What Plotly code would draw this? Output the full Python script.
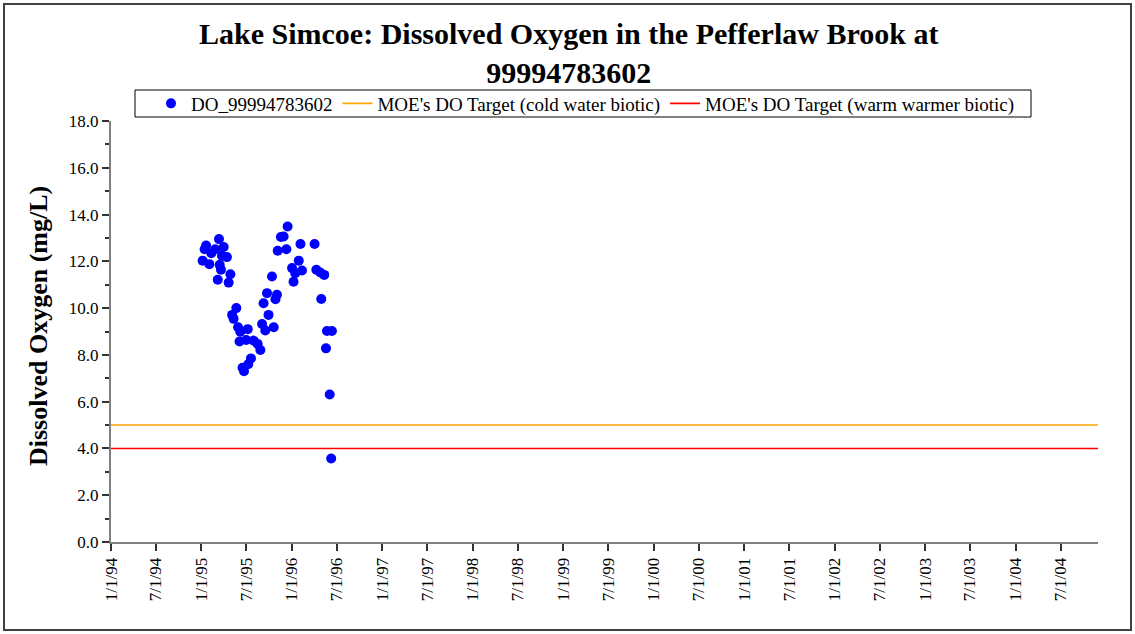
import plotly.graph_objects as go

# ---- data ----
do_dates = [
    "1995-01-06", "1995-01-14", "1995-01-20", "1995-02-02", "1995-02-10", "1995-02-26",
    "1995-03-08", "1995-03-13", "1995-03-16", "1995-03-21", "1995-03-25", "1995-04-01",
    "1995-04-14", "1995-04-21", "1995-04-28", "1995-05-05", "1995-05-11", "1995-05-22",
    "1995-05-29", "1995-06-04", "1995-06-07", "1995-06-16", "1995-06-22", "1995-07-01",
    "1995-07-07", "1995-07-09", "1995-07-20", "1995-07-31", "1995-08-16", "1995-08-27",
    "1995-09-03", "1995-09-09", "1995-09-16", "1995-09-23", "1995-09-29", "1995-10-13",
    "1995-10-20", "1995-10-27", "1995-11-02", "1995-11-05", "1995-11-18", "1995-11-29",
    "1995-12-10", "1995-12-15", "1996-01-02", "1996-01-08", "1996-01-15", "1996-01-29",
    "1996-02-05", "1996-02-11", "1996-04-02", "1996-04-09", "1996-04-25", "1996-04-29",
    "1996-05-11", "1996-05-18", "1996-05-22", "1996-06-02", "1996-06-08", "1996-06-11",
]
do_values = [
    12.03, 12.52, 12.68, 11.88, 12.35, 12.52,
    11.21, 12.95, 11.85, 11.64, 12.24, 12.61,
    12.18, 11.09, 11.45, 9.71, 9.54, 10.00,
    9.18, 8.57, 8.99, 7.45, 7.30, 8.64,
    9.10, 7.60, 7.85, 8.61, 8.47, 8.21,
    9.32, 10.21, 9.04, 10.64, 9.71, 11.35,
    9.18, 10.38, 10.57, 12.45, 13.04, 13.06,
    12.52, 13.49, 11.71, 11.13, 11.49, 12.03,
    12.74, 11.61, 12.74, 11.64, 11.52, 10.39,
    11.42, 8.28, 9.02, 6.31, 3.57, 9.02,
]
series_name = "DO_99994783602"
cold_target_name = "MOE's DO Target (cold water biotic)"
warm_target_name = "MOE's DO Target (warm warmer biotic)"
cold_target = 5.0
warm_target = 4.0

x_start = "1994-01-01"
x_end = "2004-11-29"

tick_dates = []
tick_labels = []
for yr in range(1994, 2005):
    for mo in (1, 7):
        tick_dates.append(f"{yr}-{mo:02d}-01")
        tick_labels.append(f"{mo}/1/{yr % 100:02d}")

y_ticks = [0, 2, 4, 6, 8, 10, 12, 14, 16, 18]
y_labels = [f"{v:.1f}" for v in y_ticks]

title_text = "Lake Simcoe: Dissolved Oxygen in the Pefferlaw Brook at<br>99994783602"
y_title_text = "Dissolved Oxygen (mg/L)"

FONT = "Liberation Serif"

fig = go.Figure()
fig.add_trace(go.Scatter(
    x=do_dates, y=do_values, mode="markers", name=series_name,
    marker=dict(color="#0000FF", size=10, line=dict(width=0)),
))
fig.add_trace(go.Scatter(
    x=[x_start, x_end], y=[cold_target, cold_target], mode="lines",
    name=cold_target_name, line=dict(color="#FFA500", width=1.6),
))
fig.add_trace(go.Scatter(
    x=[x_start, x_end], y=[warm_target, warm_target], mode="lines",
    name=warm_target_name, line=dict(color="#FF0000", width=1.6),
))

L, R, T, B = 111, 37, 121, 92
W, H = 1135, 634
pw, ph = W - L - R, H - T - B

def px_to_xp(px):
    return (px - L) / pw

def py_to_yp(py):
    return (H - B - py) / ph

fig.update_layout(
    width=W, height=H,
    margin=dict(l=L, r=R, t=T, b=B),
    paper_bgcolor="white", plot_bgcolor="white",
    font=dict(family=FONT, size=17, color="black"),
    showlegend=True,
    legend=dict(
        orientation="h",
        x=px_to_xp(151), xanchor="left",
        y=py_to_yp(103.5), yanchor="middle",
        borderwidth=0,
        bgcolor="rgba(0,0,0,0)",
        font=dict(family=FONT, size=19, color="black"),
        itemwidth=30,
    ),
    xaxis=dict(
        type="date",
        range=[x_start, x_end],
        tickmode="array", tickvals=tick_dates, ticktext=tick_labels,
        tickangle=-90,
        ticks="outside", ticklen=7, tickwidth=1.5, tickcolor="#333333",
        showline=True, linecolor="#808080", linewidth=2,
        showgrid=False, zeroline=False,
        tickfont=dict(family=FONT, size=17, color="black"),
    ),
    yaxis=dict(
        range=[0, 18],
        tickmode="array", tickvals=y_ticks, ticktext=y_labels,
        ticks="outside", ticklen=7, tickwidth=1.5, tickcolor="#333333",
        minor=dict(ticks="outside", ticklen=4, dtick=1, tickcolor="#333333", tickwidth=1.5),
        showline=True, linecolor="#808080", linewidth=2,
        showgrid=False, zeroline=False,
        tickfont=dict(family=FONT, size=17, color="black"),
    ),
    annotations=[
        dict(
            text=f"<b>{title_text}</b>",
            showarrow=False, xref="paper", yref="paper",
            x=px_to_xp(568), y=py_to_yp(53), xanchor="center", yanchor="middle",
            font=dict(family=FONT, size=30, color="black"),
        ),
        dict(
            text=f"<b>{y_title_text}</b>",
            textangle=-90, showarrow=False,
            xref="paper", yref="paper",
            x=px_to_xp(38), y=py_to_yp(326), xanchor="center", yanchor="middle",
            font=dict(family=FONT, size=26, color="black"),
        ),
    ],
    shapes=[
        dict(
            type="rect", xref="paper", yref="paper",
            x0=px_to_xp(4), x1=px_to_xp(1131), y0=py_to_yp(630), y1=py_to_yp(4),
            line=dict(color="#404040", width=2), fillcolor="rgba(0,0,0,0)", layer="below",
        ),
        dict(
            type="rect", xref="paper", yref="paper",
            x0=px_to_xp(135), x1=px_to_xp(1031), y0=py_to_yp(117), y1=py_to_yp(90),
            line=dict(color="black", width=1), fillcolor="white", layer="below",
        ),
    ],
)

fig.write_html(
    "out.html",
    config={"displayModeBar": False},
    post_script="document.body.style.margin='0px';document.body.style.overflow='hidden';",
)
